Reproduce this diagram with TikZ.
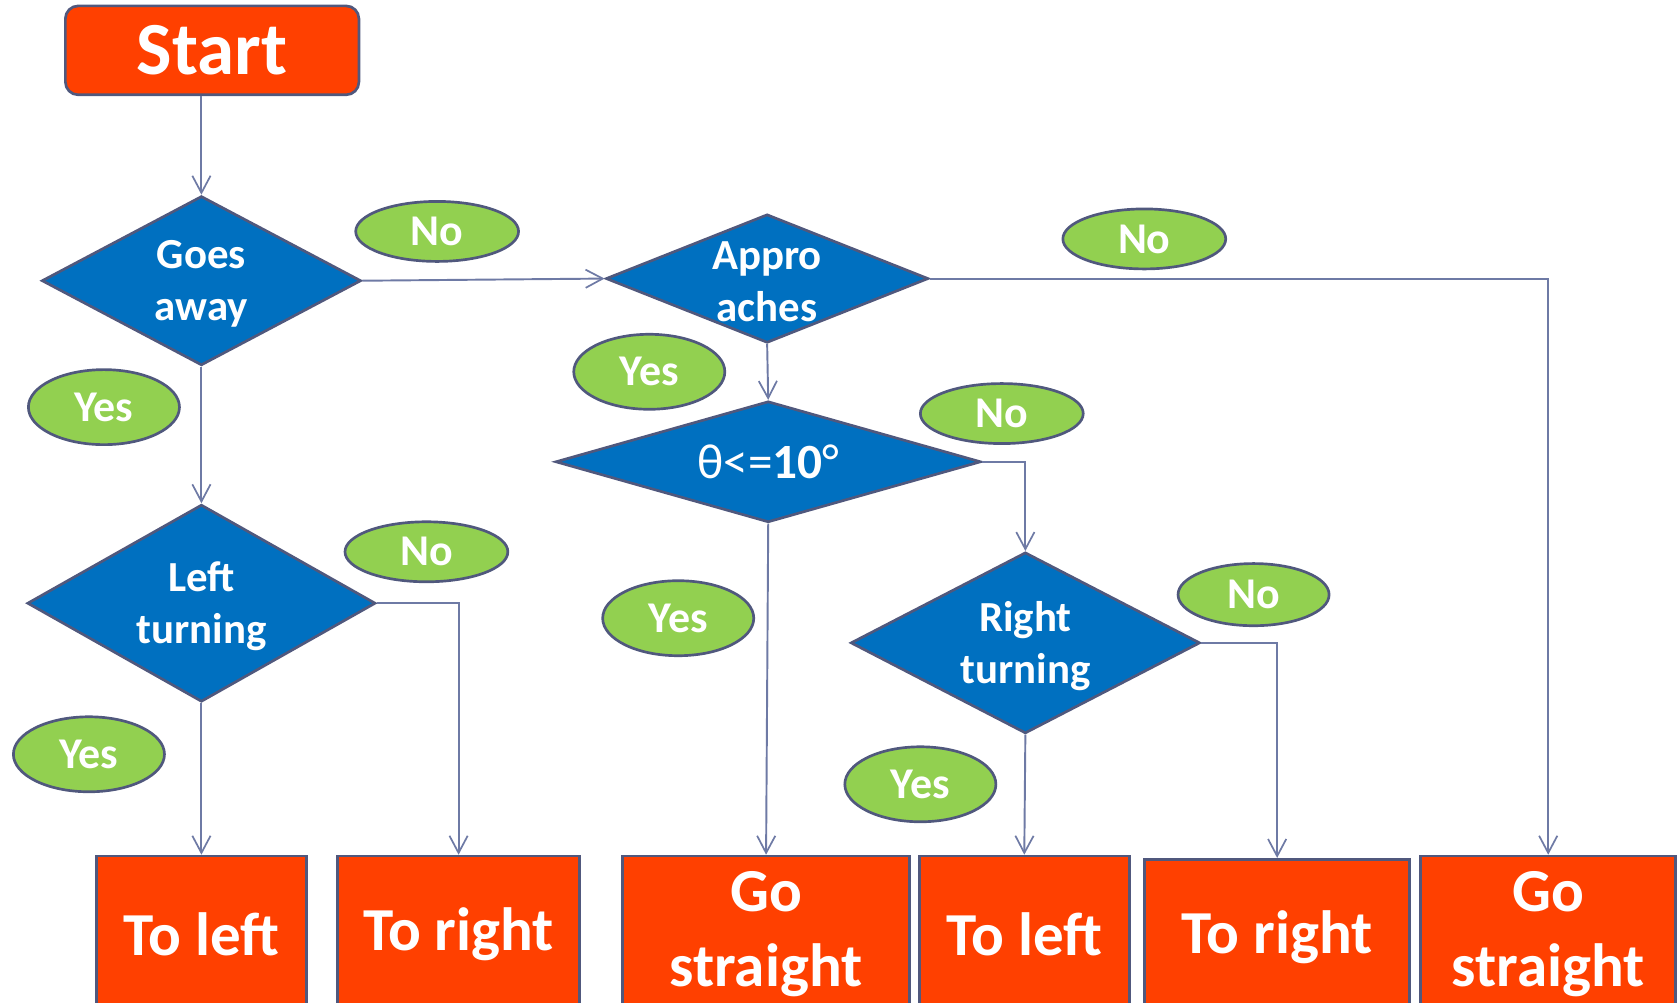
\documentclass[tikz,border=0pt]{standalone}
\usepackage{fontspec}
\setmainfont{Carlito}
\usetikzlibrary{arrows.meta,shapes.geometric,positioning,calc}

\definecolor{startred}{RGB}{255,64,0}
\definecolor{askblue}{RGB}{0,112,192}
\definecolor{tagGreen}{RGB}{146,208,80}
\definecolor{rim}{RGB}{80,88,125}
\definecolor{wire}{RGB}{110,122,165}

\begin{document}
\begin{tikzpicture}[x=1pt,y=-1pt,
    every node/.style={text=white,font=\bfseries},
    endbox/.style={rectangle,draw=rim,line width=2.5pt,fill=startred,inner sep=0pt,
      minimum height=146pt,align=center,font=\bfseries\fontsize{57}{70}\selectfont},
    ask/.style={diamond,draw=rim,line width=2.5pt,fill=askblue,inner sep=0pt},
    asktext/.style={align=center,yshift=-3pt,font=\bfseries\fontsize{40}{48}\selectfont},
    tag/.style={ellipse,draw=rim,line width=2.5pt,fill=tagGreen,inner sep=0pt,
      minimum width=152pt,minimum height=56pt,font=\bfseries\fontsize{41}{48}\selectfont},
    yestag/.style={tag,minimum width=141pt,minimum height=70pt},
    flow/.style={draw=wire,line width=1.8pt,-{Straight Barb[length=16pt,width=17pt,line width=1.6pt]}}]
  \useasboundingbox (0,0) rectangle (1568,936);
  \clip (0,0) rectangle (1568,936);

  \node[rectangle,rounded corners=12pt,draw=rim,line width=2.5pt,fill=startred,
    minimum width=274pt,minimum height=83pt,font=\bfseries\fontsize{70}{80}\selectfont]
    (start) at (198,47) {Start};

  % decisions
  \node[ask,minimum width=298pt,minimum height=158pt,
    label={[asktext]center:Goes\\away}] (goesaway) at (188,262) {};
  \node[ask,minimum width=301pt,minimum height=120pt,
    label={[asktext]center:Appro\\aches}] (approaches) at (716,260) {};
  \node[ask,minimum width=397pt,minimum height=113pt,
    label={[asktext,yshift=3pt,font=\bfseries\fontsize{46}{52}\selectfont]center:{\mdseries θ<=}10{\mdseries °}}]
    (theta) at (717,431) {};
  \node[ask,minimum width=325pt,minimum height=184pt,
    label={[asktext]center:Left\\turning}] (leftturn) at (188,563) {};
  \node[ask,minimum width=326pt,minimum height=169pt,
    label={[asktext]center:Right\\turning}] (rightturn) at (957,600) {};

  % outcomes
  \node[endbox,minimum width=196pt] (toleft1) at (188,872) {To left};
  \node[endbox,minimum width=226pt] (toright1) at (428,872) {To right};
  \node[endbox,minimum width=268pt] (gostraight1) at (715,872) {Go\\straight};
  \node[endbox,minimum width=196pt] (toleft2) at (956,872) {To left};
  \node[endbox,minimum width=247pt] (toright2) at (1192,875) {To right};
  \node[endbox,minimum width=238pt] (gostraight2) at (1445,872) {Go\\straight};

  % answers
  \node[tag] (no1) at (408,216) {No};
  \node[tag] (no2) at (1068,223) {No};
  \node[tag] (no3) at (935,386) {No};
  \node[tag,minimum width=141pt,minimum height=58pt] (no4) at (1170,555) {No};
  \node[tag] (no5) at (398,515) {No};
  \node[yestag] (yes1) at (97,380) {Yes};
  \node[yestag] (yes2) at (606,347) {Yes};
  \node[yestag] (yes3) at (633,577) {Yes};
  \node[yestag] (yes4) at (859,732) {Yes};
  \node[yestag] (yes5) at (83,704) {Yes};

  % connectors
  \draw[flow] (start.south -| goesaway.north) -- (goesaway.north);
  \draw[flow] (goesaway.east) -- (approaches.west);
  \draw[flow] (goesaway.south) -- (leftturn.north);
  \draw[flow] (approaches.east) -| (gostraight2.north);
  \draw[flow] (approaches.south) -- (theta.north);
  \draw[flow] (theta.east) -| (rightturn.north);
  \draw[flow] (theta.south) -- (gostraight1.north);
  \draw[flow] (leftturn.east) -| (toright1.north);
  \draw[flow] (leftturn.south) -- (toleft1.north);
  \draw[flow] (rightturn.east) -| (toright2.north);
  \draw[flow] (rightturn.south) -- (toleft2.north);
\end{tikzpicture}
\end{document}
